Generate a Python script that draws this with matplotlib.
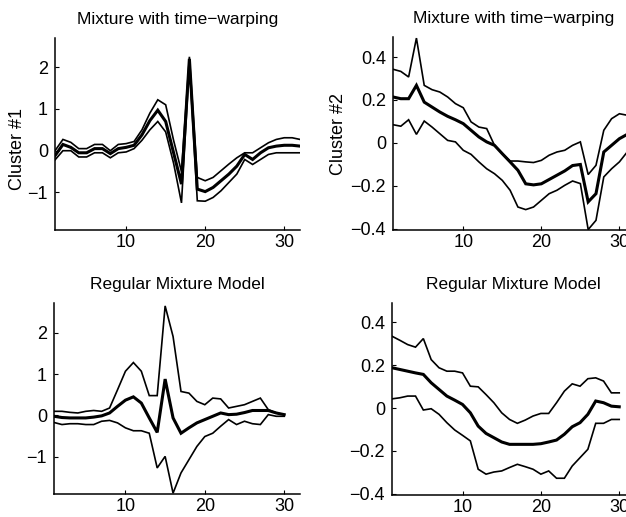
import matplotlib
matplotlib.use('Agg')
import matplotlib.pyplot as plt
import numpy as np

plt.rcParams['font.family'] = ['Liberation Sans', 'DejaVu Sans']

# cluster 1, mixture with time-warping
c1w_upper = [0.0, 0.27, 0.2, 0.05, 0.05, 0.15, 0.15, 0.0, 0.15, 0.17, 0.22, 0.5, 0.9, 1.22,
             1.1, 0.25, -0.5, 2.25, -0.64, -0.72, -0.64, -0.48, -0.32, -0.17, -0.05, -0.05,
             0.07, 0.19, 0.27, 0.31, 0.31, 0.27]
c1w_mean = [-0.12, 0.15, 0.08, -0.05, -0.05, 0.05, 0.05, -0.07, 0.05, 0.08, 0.13, 0.38, 0.72, 0.97,
            0.7, -0.05, -0.8, 2.2, -0.92, -0.98, -0.88, -0.72, -0.56, -0.37, -0.09, -0.21,
            -0.05, 0.07, 0.11, 0.13, 0.13, 0.11]
c1w_lower = [-0.22, 0.0, 0.0, -0.15, -0.15, -0.05, -0.05, -0.17, -0.05, -0.03, 0.05, 0.25, 0.5, 0.7,
             0.45, -0.3, -1.25, 2.1, -1.2, -1.21, -1.12, -0.96, -0.76, -0.56, -0.21, -0.33,
             -0.21, -0.09, -0.05, -0.05, -0.05, -0.05]

# cluster 2, mixture with time-warping
c2w_upper = [0.343, 0.333, 0.307, 0.488, 0.268, 0.248, 0.237, 0.214, 0.183, 0.164, 0.098, 0.074,
             0.067, -0.011, -0.05, -0.084, -0.084, -0.088, -0.091, -0.081, -0.057, -0.042, -0.034,
             -0.011, 0.005, -0.147, -0.104, 0.059, 0.113, 0.136, 0.129]
c2w_mean = [0.214, 0.206, 0.206, 0.268, 0.19, 0.167, 0.144, 0.124, 0.108, 0.09, 0.059, 0.028,
            0.005, -0.011, -0.05, -0.088, -0.127, -0.19, -0.195, -0.19, -0.17, -0.15, -0.13,
            -0.105, -0.1, -0.274, -0.236, -0.042, -0.011, 0.02, 0.04]
c2w_lower = [0.085, 0.078, 0.108, 0.04, 0.102, 0.074, 0.043, 0.012, 0.005, -0.034, -0.053, -0.088,
             -0.12, -0.143, -0.174, -0.22, -0.298, -0.31, -0.298, -0.267, -0.236, -0.22, -0.197,
             -0.177, -0.189, -0.403, -0.36, -0.158, -0.12, -0.088, -0.042]

# cluster 1, regular mixture
c1r_upper = [0.1, 0.1, 0.075, 0.06, 0.1, 0.12, 0.1, 0.18, 0.62, 1.07, 1.28, 1.07, 0.48, 0.48,
             2.65, 1.91, 0.58, 0.54, 0.34, 0.26, 0.42, 0.4, 0.18, 0.22, 0.26, 0.34, 0.42, 0.14,
             0.06, 0.02]
c1r_mean = [-0.02, -0.05, -0.06, -0.06, -0.06, -0.04, -0.01, 0.06, 0.22, 0.37, 0.45, 0.3, -0.06,
            -0.41, 0.88, -0.06, -0.43, -0.3, -0.18, -0.1, -0.02, 0.06, 0.02, 0.03, 0.07, 0.12,
            0.12, 0.12, 0.06, 0.02]
c1r_lower = [-0.17, -0.22, -0.2, -0.2, -0.22, -0.22, -0.14, -0.12, -0.18, -0.3, -0.37, -0.37,
             -0.43, -1.27, -0.99, -1.88, -1.39, -1.07, -0.75, -0.51, -0.43, -0.26, -0.1, -0.22,
             -0.14, -0.2, -0.22, 0.02, -0.02, -0.02]

# cluster 2, regular mixture
c2r_upper = [0.335, 0.316, 0.296, 0.284, 0.324, 0.226, 0.188, 0.172, 0.172, 0.164, 0.102, 0.099,
             0.063, 0.025, -0.022, -0.053, -0.071, -0.056, -0.037, -0.025, -0.025, 0.025, 0.079,
             0.113, 0.102, 0.137, 0.141, 0.126, 0.071, 0.071]
c2r_mean = [0.188, 0.18, 0.172, 0.164, 0.157, 0.118, 0.087, 0.056, 0.037, 0.017, -0.022, -0.084,
            -0.118, -0.138, -0.158, -0.169, -0.169, -0.169, -0.169, -0.166, -0.158, -0.149,
            -0.122, -0.087, -0.068, -0.029, 0.033, 0.025, 0.009, 0.006]
c2r_lower = [0.043, 0.048, 0.056, 0.056, -0.009, -0.003, -0.029, -0.068, -0.102, -0.127, -0.153,
             -0.285, -0.308, -0.298, -0.293, -0.277, -0.262, -0.273, -0.285, -0.308, -0.293,
             -0.327, -0.327, -0.27, -0.231, -0.192, -0.071, -0.071, -0.053, -0.053]

title_warp = 'Mixture with time\u2212warping'
title_reg = 'Regular Mixture Model'


def draw_panel(ax, upper, mean, lower, ylim, yticks, title, ylabel=None, label_xy=(-0.12, 0.5)):
    for s, lw in ((upper, 1.2), (lower, 1.2), (mean, 2.2)):
        x = np.arange(1, len(s) + 1)
        ax.plot(x, s, color='black', linewidth=lw, solid_joinstyle='miter')
    ax.set_xlim(1, 32)
    ax.set_ylim(*ylim)
    ax.set_xticks([10, 20, 30])
    ax.set_yticks(yticks)
    ax.set_yticklabels([f'{t:g}'.replace('-', '\u2212') for t in yticks])
    for side in ('top', 'right'):
        ax.spines[side].set_visible(False)
    for side in ('left', 'bottom'):
        ax.spines[side].set_linewidth(1.1)
    ax.tick_params(direction='in', length=3, width=0.8, labelsize=13)
    ax.tick_params(axis='x', pad=3)
    ax.tick_params(axis='y', pad=5)
    ax.set_title(title, fontsize=12.5, pad=10)
    if ylabel:
        ax.set_ylabel(ylabel, fontsize=13)
        ax.yaxis.set_label_coords(*label_xy)


fig = plt.figure(figsize=(6.26, 5.17), dpi=100)
ax1 = fig.add_axes([0.0879, 0.5551, 0.3914, 0.3714])
ax2 = fig.add_axes([0.6278, 0.5551, 0.3866, 0.3733])
ax3 = fig.add_axes([0.0863, 0.0445, 0.3930, 0.3694])
ax4 = fig.add_axes([0.6262, 0.0426, 0.3880, 0.3714])

draw_panel(ax1, c1w_upper, c1w_mean, c1w_lower, (-1.9, 2.7), [-1, 0, 1, 2], title_warp,
           'Cluster #1', label_xy=(-0.12, 0.42))
draw_panel(ax2, c2w_upper, c2w_mean, c2w_lower, (-0.405, 0.493), [-0.4, -0.2, 0, 0.2, 0.4],
           title_warp, 'Cluster #2', label_xy=(-0.19, 0.5))
draw_panel(ax3, c1r_upper, c1r_mean, c1r_lower, (-1.9, 2.72), [-1, 0, 1, 2], title_reg)
draw_panel(ax4, c2r_upper, c2r_mean, c2r_lower, (-0.405, 0.49), [-0.4, -0.2, 0, 0.2, 0.4], title_reg)

fig.savefig('out.png', dpi=100)
